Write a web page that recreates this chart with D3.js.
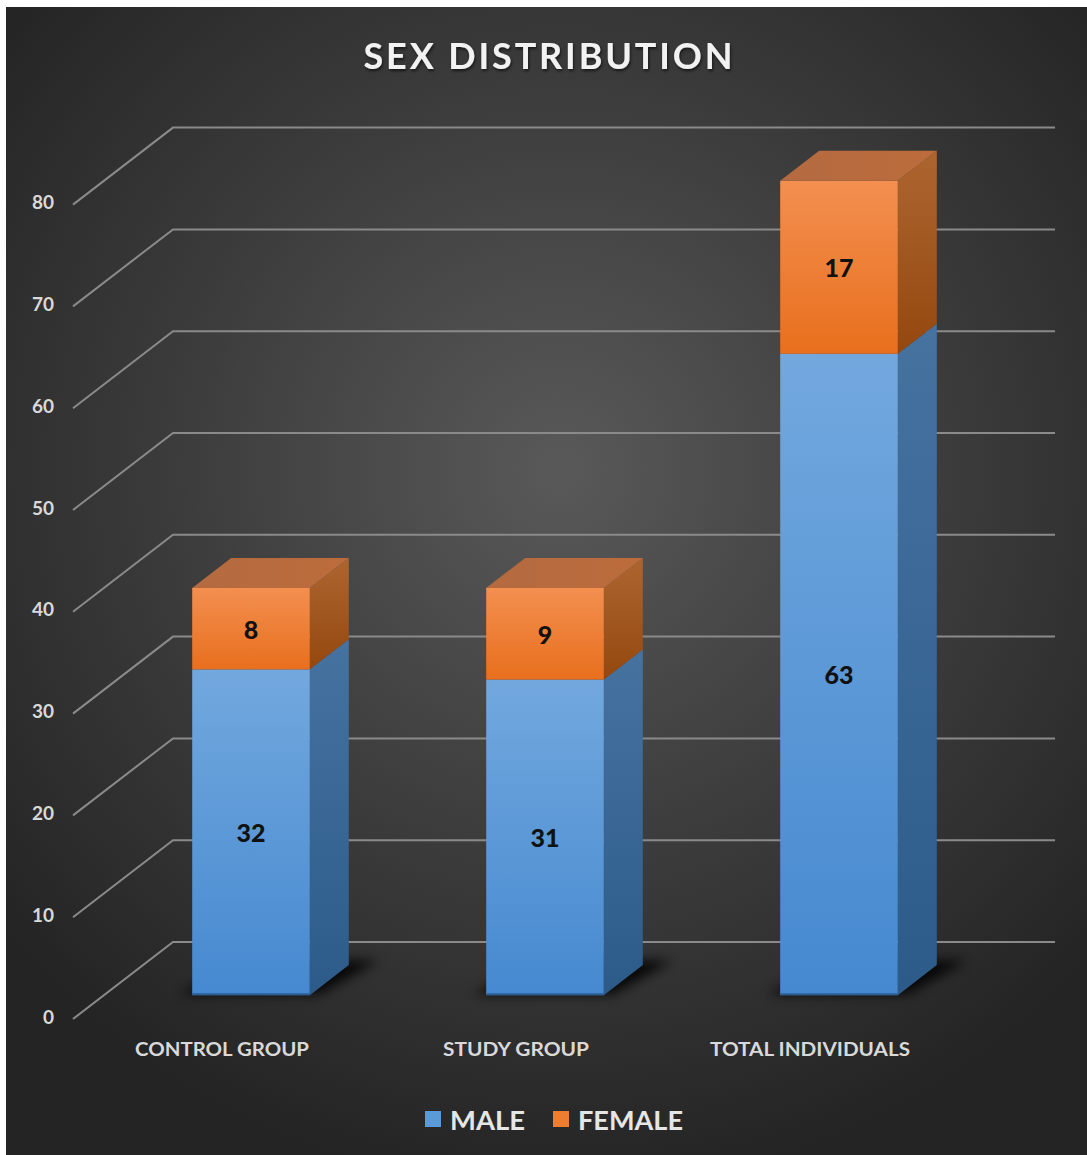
<!DOCTYPE html>
<html><head><meta charset="utf-8">
<script src="https://cdn.jsdelivr.net/npm/d3@7/dist/d3.min.js"></script>
<style>html,body{margin:0;padding:0;background:#fff;overflow:hidden;}svg{display:block;}</style>
</head><body>
<script>
const categories = ["CONTROL GROUP", "STUDY GROUP", "TOTAL INDIVIDUALS"];
const male = [32, 31, 63];
const female = [8, 9, 17];
const seriesNames = ["MALE", "FEMALE"];
const yTicks = [0, 10, 20, 30, 40, 50, 60, 70, 80];
const title = "SEX DISTRIBUTION";

const W = 1087, H = 1155;
const svg = d3.select("body").append("svg").attr("width", W).attr("height", H);
const defs = svg.append("defs");

// background
const bg = defs.append("radialGradient").attr("id","bg").attr("gradientUnits","userSpaceOnUse")
  .attr("cx",560).attr("cy",470).attr("r",720);
bg.append("stop").attr("offset","0").attr("stop-color","#595959");
bg.append("stop").attr("offset","0.55").attr("stop-color","#3b3b3b");
bg.append("stop").attr("offset","1").attr("stop-color","#242424");
svg.append("rect").attr("x",6).attr("y",7).attr("width",W-6).attr("height",H-7).attr("fill","url(#bg)");

function lin(id, stops, x2, y2){
  const g = defs.append("linearGradient").attr("id",id).attr("x1",0).attr("y1",0).attr("x2",x2).attr("y2",y2);
  stops.forEach(s=>g.append("stop").attr("offset",s[0]).attr("stop-color",s[1]));
}
lin("mFront", [[0,"#72a8de"],[1,"#4689d0"]], 0, 1);
lin("mSide", [[0,"#4672a0"],[1,"#2c5b8a"]], 0, 1);
lin("fFront", [[0,"#f38f50"],[1,"#e86f1d"]], 0, 1);
lin("fSide", [[0,"#ad6530"],[1,"#94480f"]], 0, 1);
lin("fTop", [[0,"#b46a40"],[1,"#bc6c3c"]], 1, 0);
const blur = defs.append("filter").attr("id","blur").attr("x","-50%").attr("y","-50%").attr("width","200%").attr("height","200%");
blur.append("feGaussianBlur").attr("stdDeviation",6);
const tshadow = defs.append("filter").attr("id","tsh");
tshadow.append("feDropShadow").attr("dx",1).attr("dy",2).attr("stdDeviation",1.5).attr("flood-color","#000").attr("flood-opacity",0.6);

// scales + 3D projection
const x = d3.scaleBand().domain(categories).range([73, 955]).paddingInner(0.6).paddingOuter(0.3);
const y = d3.scaleLinear().domain([0, 80]).range([1019, 204.6]);
const DX = 100, DY = 77;
const P = (px, v, d) => [px + d*DX, y(v) - d*DY];
const poly = pts => "M" + pts.map(p=>p.join(",")).join("L") + "Z";

// gridlines
const grid = svg.append("g").attr("stroke","#8a8a8a").attr("stroke-width",2).attr("fill","none");
yTicks.forEach(t=>{
  const a = P(73, t, 0), b = P(73, t, 1), c = [1055, b[1]];
  grid.append("path").attr("d", "M"+a+"L"+b+"L"+c);
});

// y axis labels
svg.append("g").selectAll("text").data(yTicks).join("text")
  .attr("x", 54).attr("y", d=>y(d)-3).attr("text-anchor","end").attr("dominant-baseline","central")
  .attr("font-family","Lato, sans-serif").attr("font-weight","bold").attr("font-size",19)
  .attr("fill","#d9d9d9").text(d=>d);

// bars
const d0 = 0.31, d1 = 0.70;
const bars = svg.append("g");
categories.forEach((c,i)=>{
  const xl = x(c), xr = x(c) + x.bandwidth();
  // base shadow
  bars.append("path").attr("d", poly([P(xl-14,0,d0+0.01),P(xr+8,0,d0+0.01),P(xr+24,0,d1+0.06),P(xl+8,0,d1+0.06)]))
    .attr("fill","#000").attr("opacity",0.85).attr("filter","url(#blur)");
  const segs = [[0, male[i], "m"], [male[i], male[i]+female[i], "f"]];
  segs.forEach(([v0,v1,s])=>{
    bars.append("path").attr("d", poly([P(xr,v0,d0),P(xr,v0,d1),P(xr,v1,d1),P(xr,v1,d0)]))
      .attr("fill", `url(#${s}Side)`);
    const f0 = P(xl,v1,d0), f1 = P(xr,v0,d0);
    bars.append("rect").attr("x",f0[0]).attr("y",f0[1]).attr("width",f1[0]-f0[0]).attr("height",f1[1]-f0[1])
      .attr("fill", `url(#${s}Front)`);
  });
  const top = male[i]+female[i];
  bars.append("path").attr("d", poly([P(xl,top,d0),P(xr,top,d0),P(xr,top,d1),P(xl,top,d1)]))
    .attr("fill","url(#fTop)");
  const b0 = P(xl,0,d0), b1 = P(xr,0,d0);
  bars.append("line").attr("x1",b0[0]).attr("x2",b1[0]).attr("y1",b0[1]-1).attr("y2",b1[1]-1)
    .attr("stroke","#2d5f94").attr("stroke-width",2);
  const cx = (xl+xr)/2 + d0*DX;
  [[male[i], male[i]/2], [female[i], male[i]+female[i]/2]].forEach(([val,mid])=>{
    bars.append("text").attr("x",cx).attr("y",y(mid)-d0*DY).attr("text-anchor","middle").attr("dominant-baseline","central")
      .attr("font-family","Lato, sans-serif").attr("font-weight","900").attr("font-size",25).attr("fill","#111")
      .text(val);
  });
});

// category labels
const catW = [174, 146, 200];
svg.append("g").selectAll("text").data(categories).join("text")
  .attr("x", d=>x(d)+x.bandwidth()/2+2).attr("y", 1048).attr("text-anchor","middle").attr("dominant-baseline","central")
  .attr("font-family","Lato, sans-serif").attr("font-weight","bold").attr("font-size",19)
  .attr("fill","#d9d9d9").attr("textLength",(d,i)=>catW[i]).attr("lengthAdjust","spacingAndGlyphs").text(d=>d);

// title
svg.append("text").attr("x",548).attr("y",55).attr("text-anchor","middle").attr("dominant-baseline","central")
  .attr("font-family","Lato, sans-serif").attr("font-weight","bold").attr("font-size",36)
  .attr("fill","#f2f2f2").attr("textLength",369).attr("lengthAdjust","spacing").attr("filter","url(#tsh)").text(title);

// legend
const legColors = ["#5b9bd5", "#ed7d31"];
const legX = [425, 553], legTW = [75, 105];
const leg = svg.append("g");
seriesNames.forEach((n,i)=>{
  leg.append("rect").attr("x",legX[i]).attr("y",1111).attr("width",16).attr("height",16).attr("fill",legColors[i]);
  leg.append("text").attr("x",legX[i]+25).attr("y",1119).attr("dominant-baseline","central")
    .attr("font-family","Lato, sans-serif").attr("font-weight","bold").attr("font-size",27)
    .attr("fill","#e6e6e6").attr("textLength",legTW[i]).attr("lengthAdjust","spacingAndGlyphs").text(n);
});
</script>
</body></html>
